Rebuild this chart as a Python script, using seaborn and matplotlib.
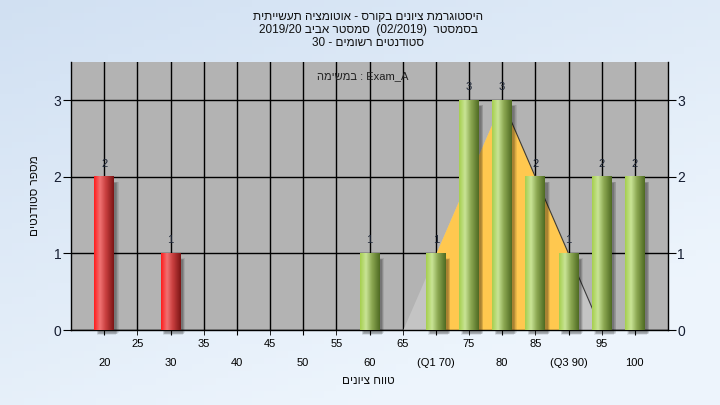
import numpy as np
import matplotlib
matplotlib.use("Agg")
import matplotlib.pyplot as plt
import seaborn as sns
from matplotlib.patches import Rectangle
from matplotlib.colors import LinearSegmentedColormap

# data
scores = [20, 30, 60, 70, 75, 80, 85, 90, 95, 100]
counts = [2, 1, 1, 1, 3, 3, 2, 1, 2, 2]
status = ["fail" if s < 60 else "pass" for s in scores]

# orange distribution shape behind the bars (Q1 .. Q3 part in orange)
curve_x = [65, 70, 75, 80, 85, 90, 95]
curve_y = [0, 1, 2, 3, 2, 1, 0]

major_ticks = [20, 30, 40, 50, 60, 70, 80, 90, 100]
major_labels = ["20", "30", "40", "50", "60", "(Q1 70)", "80", "(Q3 90)", "100"]
minor_ticks = [25, 35, 45, 55, 65, 75, 85, 95]
y_ticks = [0, 1, 2, 3]


def vis(s):
    # matplotlib has no bidi support: hebrew is given in visual order
    return s[::-1]


title_lines = [
    vis("היסטוגרמת ציונים בקורס - אוטומציה תעשייתית"),
    "2019/20 " + vis("סמסטר אביב") + "  (02/2019)  " + vis("בסמסטר"),
    "30 - " + vis("סטודנטים רשומים"),
]
task_text = vis("במשימה") + " : Exam_A"
x_title = vis("טווח ציונים")
y_title = vis("מספר סטודנטים")

plt.rcParams["font.family"] = ["Liberation Sans", "DejaVu Sans"]

fig = plt.figure(figsize=(7.2, 4.05), dpi=100)

# light blue gradient background
bg = fig.add_axes([0, 0, 1, 1], zorder=-10)
gx, gy = np.meshgrid(np.linspace(0, 1, 60), np.linspace(0, 1, 60))
t = np.clip((gx * 0.6 + gy * 0.9) / 1.2, 0, 1)[..., None]
c0 = np.array([0.82, 0.88, 0.95])
c1 = np.array([0.93, 0.96, 0.99])
bg.imshow(c0 * (1 - t) + c1 * t, extent=[0, 1, 0, 1], aspect="auto", origin="upper")
bg.axis("off")

ax = fig.add_axes([71 / 720, 75 / 405, 597 / 720, 268 / 405])
ax.set_facecolor("#b3b3b3")

# distribution shape
ax.fill_between(curve_x, curve_y, color="#c4c4c4", lw=0, zorder=1.1)
ax.fill_between(curve_x[1:6], curve_y[1:6], color="#ffc84f", lw=0, zorder=1.2)
ax.plot(curve_x[3:], curve_y[3:], color="#3a3a3a", lw=0.8, zorder=1.3)

sns.barplot(x=scores, y=counts, hue=status, palette={"fail": "red", "pass": "green"},
            native_scale=True, dodge=False, width=0.6, legend=False, ax=ax)

red_cmap = LinearSegmentedColormap.from_list(
    "r", [(0, "#ff1c1c"), (0.3, "#f07272"), (0.6, "#c83e3e"), (1, "#7c1515")])
green_cmap = LinearSegmentedColormap.from_list(
    "g", [(0, "#a6cf4e"), (0.3, "#c9e496"), (0.6, "#8ca852"), (1, "#4f6b22")])
grad = np.linspace(0, 1, 64).reshape(1, -1)

for p in ax.patches:
    h = p.get_height()
    if not h or h <= 0:
        continue
    x0, w = p.get_x(), p.get_width()
    fc = p.get_facecolor()
    cmap = red_cmap if fc[0] > fc[1] else green_cmap
    # soft drop shadow
    for k in range(5):
        ax.add_patch(Rectangle((x0 + 0.35 + k * 0.08, -0.06 + k * 0.004), w, h - 0.02,
                               color="black", alpha=0.08, lw=0, zorder=2, clip_on=False))
    ax.imshow(grad, cmap=cmap, extent=[x0, x0 + w, 0, h], aspect="auto", zorder=3)
    p.set_facecolor("none")
    p.set_edgecolor("none")

for c in ax.containers:
    for txt in ax.bar_label(c, fmt="%d", padding=6, fontsize=8, color="#1e2636"):
        txt.set_zorder(7)

ax.set_xlim(15, 105)
ax.set_ylim(0, 3.5)

ax.set_xticks(major_ticks)
ax.set_xticklabels(major_labels)
ax.set_xticks(minor_ticks, minor=True)
ax.set_xticklabels([str(v) for v in minor_ticks], minor=True)
ax.tick_params(axis="x", which="major", length=3.6, pad=16.5, labelsize=8, color="black")
ax.tick_params(axis="x", which="minor", length=3.6, pad=3, labelsize=8, color="black")
ax.set_yticks(y_ticks)
ax.tick_params(axis="y", left=True, right=True, labelleft=True, labelright=True,
               length=5.8, pad=1, labelsize=10, labelcolor="#141c30", color="black")

ax.set_axisbelow(True)
ax.grid(True, which="both", axis="x", color="black", lw=1)
ax.grid(True, which="major", axis="y", color="black", lw=1)
ax.spines["top"].set_visible(False)
for s in ["left", "right", "bottom"]:
    ax.spines[s].set_color("black")
    ax.spines[s].set_linewidth(1)

ax.text(59, 3.32, task_text, ha="center", va="center", fontsize=8, color="#202020", zorder=6)

for i, line in enumerate(title_lines):
    fig.text(368 / 720, 1 - (17.5 + i * 12.5) / 405, line, ha="center", va="center",
             fontsize=8.5, color="#101010")
fig.text(368 / 720, 1 - 381 / 405, x_title, ha="center", va="center", fontsize=8.5, color="#101010")
fig.text(35 / 720, 1 - 196 / 405, y_title, ha="center", va="center", rotation=90,
         fontsize=8.5, color="#101010")

fig.savefig("out.png", dpi=100)
